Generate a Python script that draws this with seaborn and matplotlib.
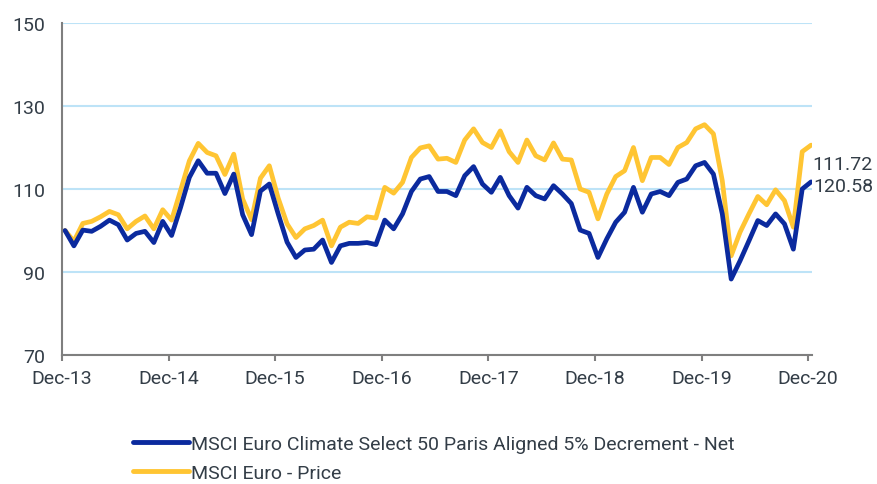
import pandas as pd
import numpy as np
import seaborn as sns
import matplotlib.pyplot as plt

# monthly index levels, Dec-13 = 100
net = [100.0, 96.3, 100.1, 99.8, 101.0, 102.5, 101.4, 97.7, 99.3, 99.8, 97.1, 102.2,
       98.8, 105.5, 112.8, 116.8, 113.8, 113.8, 108.9, 113.6, 103.8, 99.0, 109.5, 111.2,
       104.0, 97.2, 93.5, 95.3, 95.5, 97.7, 92.3, 96.3, 96.9, 96.9, 97.1, 96.6,
       102.5, 100.4, 104.0, 109.4, 112.4, 113.0, 109.4, 109.4, 108.4, 113.2, 115.4, 111.2,
       109.2, 112.8, 108.4, 105.4, 110.4, 108.4, 107.6, 110.8, 108.8, 106.5, 100.1, 99.3,
       93.5, 98.0, 102.0, 104.4, 110.4, 104.4, 108.8, 109.4, 108.4, 111.6, 112.4, 115.6,
       116.4, 113.6, 104.0, 88.3, 92.7, 97.5, 102.4, 101.2, 104.0, 101.6, 95.5, 110.0,
       111.72]
price = [100.0, 97.4, 101.7, 102.2, 103.3, 104.6, 103.8, 100.4, 102.2, 103.5, 100.4, 105.0,
         102.5, 109.6, 116.8, 121.0, 118.8, 118.0, 113.5, 118.4, 107.6, 102.6, 112.6, 115.6,
         107.8, 101.6, 98.3, 100.4, 101.2, 102.5, 96.3, 100.8, 102.0, 101.7, 103.3, 103.0,
         110.4, 109.0, 111.6, 117.6, 119.9, 120.4, 117.2, 117.4, 116.4, 121.8, 124.5, 121.2,
         120.0, 124.0, 119.0, 116.4, 121.8, 118.0, 117.0, 121.1, 117.2, 117.0, 110.0, 109.2,
         102.8, 108.8, 113.0, 114.4, 120.0, 112.0, 117.6, 117.6, 115.9, 120.0, 121.2, 124.5,
         125.5, 123.3, 112.0, 93.9, 99.6, 104.0, 108.2, 106.2, 109.8, 107.2, 100.8, 119.0,
         120.58]
year_labels = ["Dec-13", "Dec-14", "Dec-15", "Dec-16", "Dec-17", "Dec-18", "Dec-19", "Dec-20"]
end_labels = ["111.72", "120.58"]

name_net = "MSCI Euro Climate Select 50 Paris Aligned 5% Decrement - Net"
name_price = "MSCI Euro - Price"

months = np.arange(len(net))
df = pd.DataFrame({"month": np.concatenate([months, months]),
                   "value": net + price,
                   "series": [name_net] * len(net) + [name_price] * len(price)})

sns.set_theme(style="white")
plt.rcParams["font.family"] = ["Roboto", "DejaVu Sans"]
txt = "#333d47"

fig = plt.figure(figsize=(8.77, 4.85), dpi=100)
ax = fig.add_axes([62 / 877, 1 - 356 / 485, 750 / 877, 332 / 485])

sns.lineplot(data=df, x="month", y="value", hue="series",
             hue_order=[name_net, name_price],
             palette=["#0b2a9e", "#ffc533"], linewidth=3.4, ax=ax, legend=False)
# net drawn on top like the reference
ax.lines[1].set_zorder(3)
ax.lines[0].set_zorder(4)

ax.set_ylim(70, 150)
ax.set_xlim(-0.34, 84.1)
ax.set_yticks([70, 90, 110, 130, 150])
ax.set_xticks([12 * i - 0.34 for i in range(8)])
ax.set_xticklabels(year_labels)
ax.set_xlabel("")
ax.set_ylabel("")
ax.grid(axis="y", color="#bde3f7", linewidth=1.5)
ax.set_axisbelow(True)
for s in ["top", "right"]:
    ax.spines[s].set_visible(False)
for s in ["left", "bottom"]:
    ax.spines[s].set_color("#7f7f7f")
    ax.spines[s].set_linewidth(1.5)
ax.tick_params(axis="y", length=0, pad=12, labelsize=14, labelcolor=txt)
ax.tick_params(axis="x", length=4, width=1.5, color="#7f7f7f", pad=6,
               labelsize=14, labelcolor=txt, bottom=True)

ax.text(84.1, 116.0, end_labels[0], fontsize=14, color=txt, va="center", ha="left", clip_on=False)
ax.text(84.2, 110.7, end_labels[1], fontsize=14, color=txt, va="center", ha="left", clip_on=False)

handles = [ax.lines[0], ax.lines[1]]
leg = fig.legend(handles, [name_net, name_price], loc="upper left",
                 bbox_to_anchor=(133 / 877, 1 - 436 / 485), frameon=False,
                 fontsize=14, handlelength=2.9, handletextpad=0.1,
                 labelspacing=0.55, borderpad=0, borderaxespad=0)
for t in leg.get_texts():
    t.set_color(txt)
for h in leg.get_lines():
    h.set_linewidth(3.5)

fig.savefig("out.png", dpi=100)
